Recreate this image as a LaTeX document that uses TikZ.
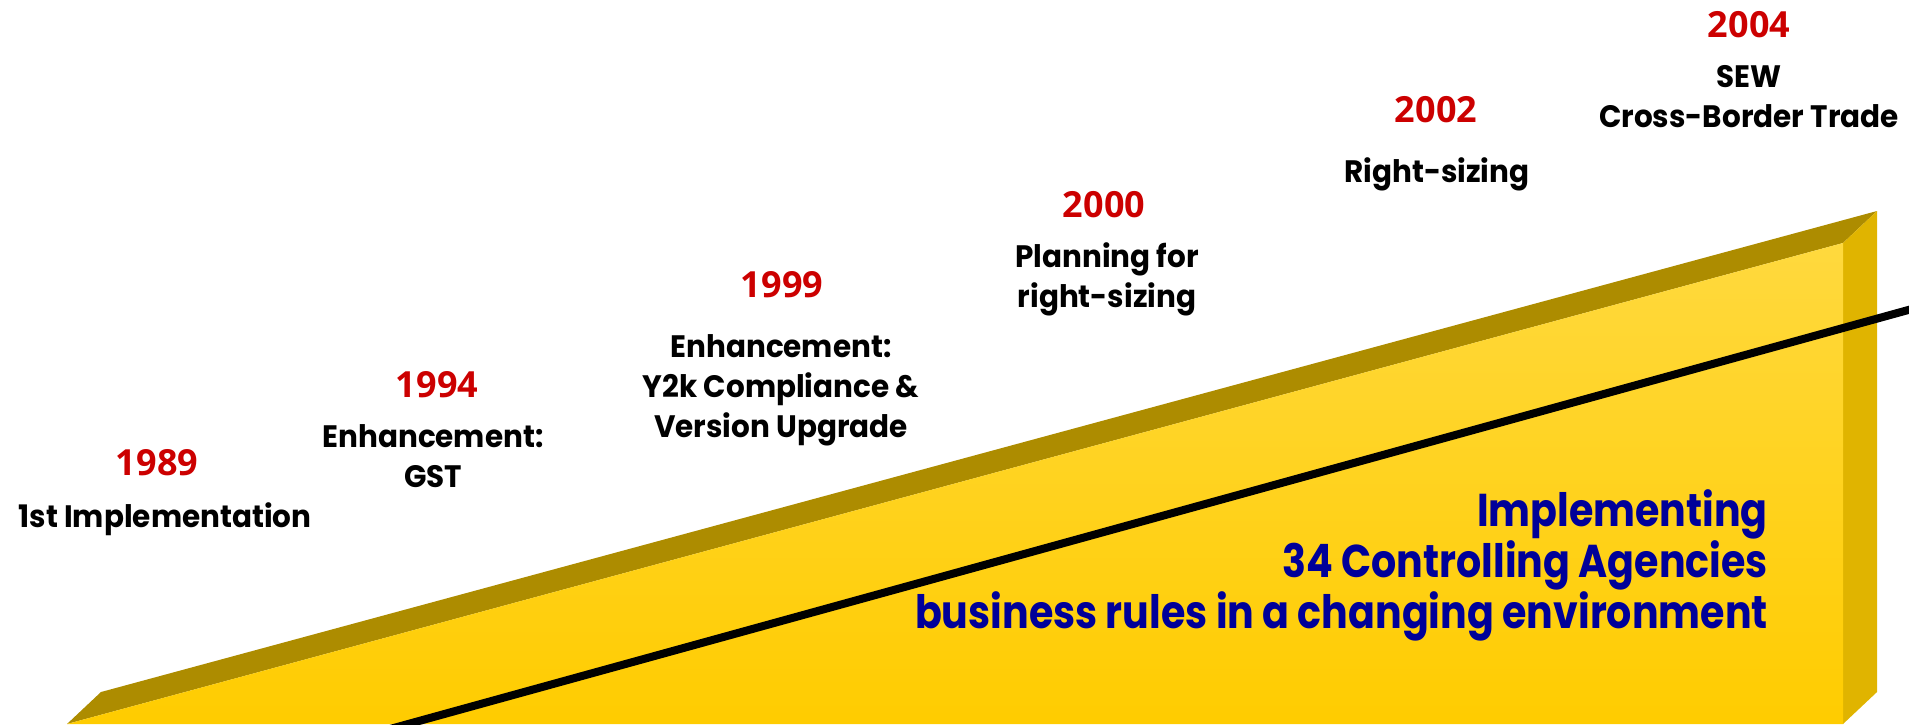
\documentclass[tikz,border=0pt]{standalone}
\usepackage{fontspec}
\newfontfamily\labelfont[FakeStretch=0.95]{Poppins}
\newfontfamily\goalfont[FakeStretch=0.86]{Poppins}
\newfontfamily\yearfont{Open Sans}
\definecolor{YearRed}{RGB}{204,0,0}
\definecolor{AgencyBlue}{RGB}{0,0,153}
\definecolor{WedgeTop}{RGB}{255,217,62}
\definecolor{WedgeBottom}{RGB}{255,204,0}
\definecolor{WedgeBevel}{RGB}{173,140,0}
\definecolor{WedgeSide}{RGB}{224,180,0}
\tikzset{
    year/.style={anchor=base, inner sep=0pt, text=YearRed,
        font=\yearfont\bfseries\fontsize{36}{42}\selectfont},
    milestone/.style={anchor=base, inner sep=0pt, align=center,
        font=\labelfont\bfseries\fontsize{31}{40}\selectfont},
    goal/.style={anchor=base east, inner sep=0pt, align=right, text=AgencyBlue,
        font=\goalfont\bfseries\fontsize{46}{51}\selectfont}
}

\begin{document}
\begin{tikzpicture}[x=1pt, y=-1pt]

\useasboundingbox (0,0) rectangle (1909,724);
\clip (0,0) rectangle (1909,724);

\coordinate (A) at (67,724);
\coordinate (B) at (1843,243);
\coordinate (C) at (1843,724);
\coordinate (D) at (1877,211);
\coordinate (E) at (101,692);
\coordinate (F) at (1877,692);

% Dibujar la cuña
\fill[WedgeBevel] (A) -- (E) -- (D) -- (B) -- cycle;
\fill[WedgeSide] (B) -- (D) -- (F) -- (C) -- cycle;
\shade[top color=WedgeTop, bottom color=WedgeBottom] (A) -- (B) -- (C) -- cycle;

% Línea de tendencia
\coordinate (L1) at (390,729);
\coordinate (L2) at (1930,304);
\draw[line width=8pt] (L1) -- (L2);

% Años
\node[year] (y89) at (157,475) {1989};
\node[year] (y94) at (437,397) {1994};
\node[year] (y99) at (782,297) {1999};
\node[year] (y00) at (1104,217) {2000};
\node[year] (y02) at (1436,122) {2002};
\node[year] (y04) at (1749,37) {2004};

% Hitos (ancla en la última línea)
\node[milestone] (m89) at (165,527) {1st Implementation};
\node[milestone] (m94) at (433,487) {Enhancement:\\GST};
\node[milestone] (m99) at (781,437) {Enhancement:\\Y2k Compliance \&\\Version Upgrade};
\node[milestone] (m00) at (1107,307) {Planning for\\right-sizing};
\node[milestone] (m02) at (1437,182) {Right-sizing};
\node[milestone] (m04) at (1749,127) {SEW\\Cross-Border Trade};

% Objetivo
\node[goal] (goal) at (1768,628) {Implementing\\34 Controlling Agencies\\business rules in a changing environment};

\end{tikzpicture}
\end{document}
